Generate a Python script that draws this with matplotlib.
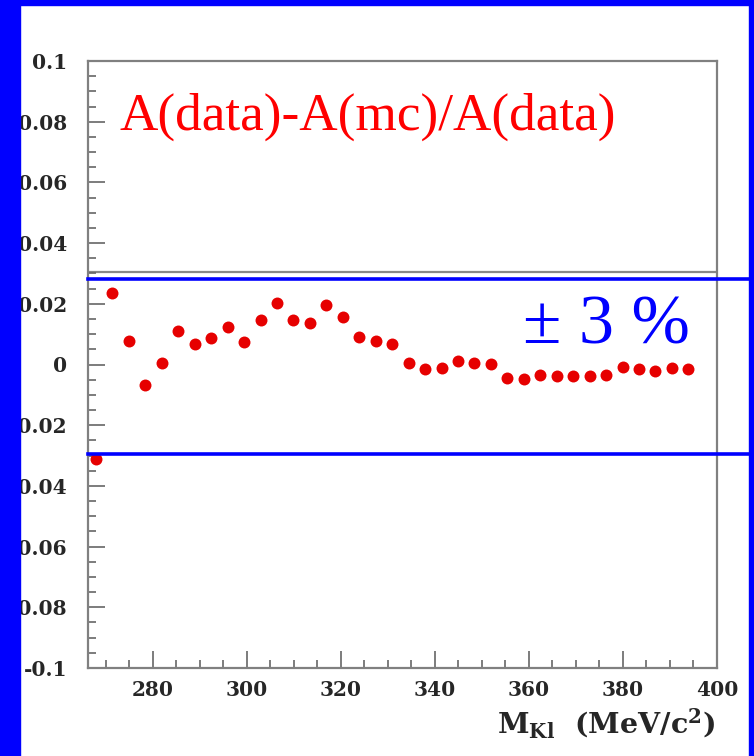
import numpy as np
import matplotlib
matplotlib.use("Agg")
import matplotlib.pyplot as plt
from matplotlib.patches import Rectangle
from matplotlib.ticker import MultipleLocator, FuncFormatter

# bin centres (MeV/c^2) and asymmetry difference
mass = [267.9, 271.4, 274.9, 278.4, 281.9, 285.4, 288.9, 292.4, 295.9, 299.4,
        302.9, 306.4, 309.9, 313.4, 316.9, 320.4, 323.9, 327.4, 330.9, 334.4,
        337.9, 341.4, 344.9, 348.4, 351.9, 355.4, 358.9, 362.4, 365.9, 369.4,
        372.9, 376.4, 379.9, 383.4, 386.9, 390.4, 393.9]
diff = [-0.0310, 0.0236, 0.0079, -0.0067, 0.0004, 0.0112, 0.0068, 0.0087, 0.0123, 0.0074,
        0.0145, 0.0203, 0.0148, 0.0137, 0.0197, 0.0156, 0.0090, 0.0079, 0.0068, 0.0006,
        -0.0014, -0.0012, 0.0010, 0.0006, 0.0003, -0.0044, -0.0047, -0.0036, -0.0039, -0.0039,
        -0.0039, -0.0034, -0.0009, -0.0016, -0.0020, -0.0011, -0.0014]
band = [0.0283, -0.0296]
y_ticks = [-0.1, -0.08, -0.06, -0.04, -0.02, 0, 0.02, 0.04, 0.06, 0.08, 0.1]

W, H = 754, 756
fig = plt.figure(figsize=(W / 100, H / 100), dpi=100)
fig.patch.set_facecolor("white")

left, right, top, bottom = 88, 717, 61, 668
ax = fig.add_axes([left / W, 1 - bottom / H, (right - left) / W, (bottom - top) / H])
ax.set_xlim(266.2, 400)
ax.set_ylim(-0.1, 0.1)

for s in ax.spines.values():
    s.set_color("#808080")
    s.set_linewidth(1.6)

ax.xaxis.set_major_locator(MultipleLocator(20))
ax.xaxis.set_minor_locator(MultipleLocator(5))
ax.yaxis.set_major_locator(MultipleLocator(0.02))
ax.yaxis.set_minor_locator(MultipleLocator(0.005))
ax.set_yticks(y_ticks)
ax.yaxis.set_major_formatter(FuncFormatter(lambda v, p: "0" if abs(v) < 1e-9 else f"{v:g}"))
ax.tick_params(which="both", direction="in", color="#666666", width=1.2,
               top=False, right=False)
ax.tick_params(which="major", length=12)
ax.tick_params(which="minor", length=6)
ax.tick_params(axis="y", pad=15)
ax.tick_params(axis="x", pad=9)
for lab in ax.get_xticklabels() + ax.get_yticklabels():
    lab.set_fontfamily("DejaVu Serif")
    lab.set_fontweight("bold")
    lab.set_fontsize(14.5)
    lab.set_color("#262626")

# grey line left from the pasted frame
ax.axhline(0.0304, color="#888888", lw=1.6, zorder=1)

ax.plot(mass, diff, "o", color="#e60000", ms=8.6, mec="none", zorder=3, clip_on=False)

# +-3 % band lines, running out to the right border
xmax = (750 - left) / (right - left)
for b in band:
    ax.axhline(b, xmin=0, xmax=xmax, color="#0000ff", lw=2.6, clip_on=False, zorder=4)

fig.text(120 / W, 1 - 130 / H, "A(data)-A(mc)/A(data)", color="#ff0000",
         fontfamily="Liberation Serif", fontsize=38.3, va="baseline")
fig.text(523 / W, 1 - 343 / H, "\u00b1 3 %", color="#0000ff",
         fontfamily="Liberation Serif", fontsize=50.5, va="baseline")

plt.rcParams["mathtext.fontset"] = "dejavuserif"
fig.text(715 / W, 1 - 733 / H, r"M$_{\mathbf{Kl}}$  (MeV/c$^{\mathbf{2}}$)",
         fontfamily="DejaVu Serif", fontweight="bold", fontsize=20.5,
         color="#262626", ha="right", va="baseline")

# blue slide border
blue = "#0000ff"
fig.patches.append(Rectangle((0, 0), 20 / W, 1, transform=fig.transFigure,
                             color=blue, zorder=10))
fig.patches.append(Rectangle((0, 1 - 5 / H), 1, 5 / H, transform=fig.transFigure,
                             color=blue, zorder=10))
fig.patches.append(Rectangle((749 / W, 0), 5 / W, 1, transform=fig.transFigure,
                             color=blue, zorder=10))

fig.savefig("out.png", dpi=100)
